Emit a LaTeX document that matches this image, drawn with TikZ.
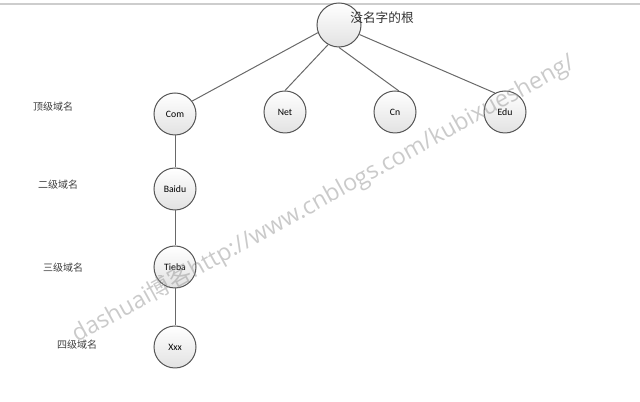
\documentclass[tikz,border=0pt]{standalone}
\usepackage{fontspec}
\setmainfont{Carlito}
\newfontfamily\cjk{Noto Sans CJK SC}
\newfontfamily\wmfont{Open Sans}
\definecolor{rim}{RGB}{85,85,85}
\definecolor{wire}{RGB}{105,105,105}
\definecolor{bulb}{RGB}{226,226,226}
\definecolor{rulegray}{RGB}{205,205,205}
\definecolor{stampgray}{RGB}{150,150,150}
\begin{document}
\begin{tikzpicture}[x=0.75pt,y=0.75pt,yscale=-1,xscale=1,
  dnsnode/.style={circle,draw=rim,line width=0.75pt,top color=white,bottom color=bulb,minimum size=31.5pt,inner sep=0pt,font=\fontsize{7.3}{8}\selectfont},
  tierlabel/.style={font=\cjk\fontsize{7.5}{9}\selectfont,text=black!75},
  branch/.style={draw=wire,line width=0.75pt}]
\useasboundingbox (0,0) rectangle (640,402);

%Straight Lines (top rule)
\draw [color=rulegray, line width=1.1pt] (0,4) -- (640,4) ;

%Shape: Circle (root)
\node [dnsnode, minimum size=33pt] (root) at (339,25) {};
% Text Node
\node [font=\cjk\fontsize{9.5}{11}\selectfont, text=black!80] (rootname) at (382,18) {没名字的根};

%Shape: Circle (top level)
\node [dnsnode] (com) at (175,114) {Com};
\node [dnsnode] (net) at (285,112) {Net};
\node [dnsnode] (cn) at (395,112) {Cn};
\node [dnsnode] (edu) at (505,112) {Edu};
%Shape: Circle (lower levels)
\node [dnsnode] (baidu) at (175,189) {Baidu};
\node [dnsnode] (tieba) at (175,267) {Tieba};
\node [dnsnode] (xxx) at (175,347) {Xxx};

%Straight Lines
\draw [branch] (root.200) -- (com.37) ;
\draw [branch] (root.-119) -- (net.north) ;
\draw [branch] (root.-90) -- (cn.80) ;
\draw [branch] (root.-25) -- (edu.118) ;
\draw [branch] (com.south) -- (baidu.north) ;
\draw [branch] (baidu.south) -- (tieba.north) ;
\draw [branch] (tieba.south) -- (xxx.north) ;

% Text Node
\node [tierlabel] (tiertop) at (53,107) {顶级域名};
% Text Node
\node [tierlabel] (tiertwo) at (58,185) {二级域名};
% Text Node
\node [tierlabel] (tierthree) at (63,268) {三级域名};
% Text Node
\node [tierlabel] (tierfour) at (77,345) {四级域名};

% Text Node (watermark)
\node [anchor=base west, rotate=28.9, inner sep=0pt, text=stampgray, opacity=0.5, font=\fontsize{17.6}{19}\selectfont] (stamp) at (77,343) {{\wmfont dashuai}{\cjk 博客}{\wmfont http://www.cnblogs.com/kubixuesheng/}};

\end{tikzpicture}
\end{document}
